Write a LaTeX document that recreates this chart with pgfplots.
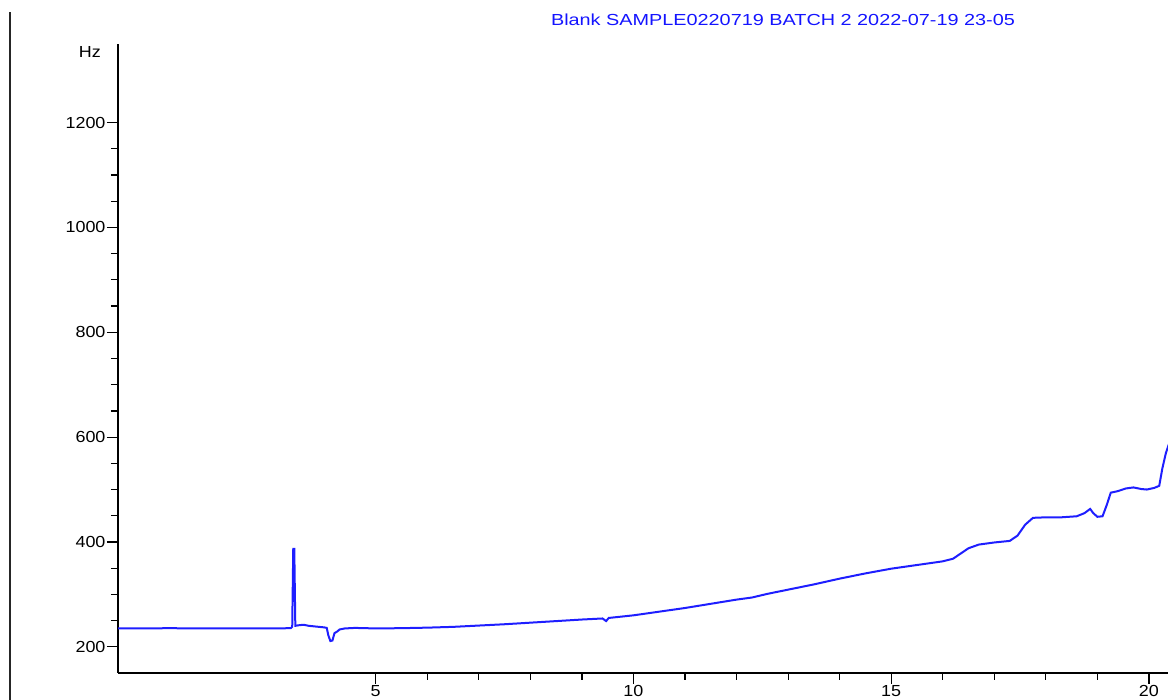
\documentclass[border=0pt]{standalone}
\usepackage{pgfplots}
\pgfplotsset{compat=1.18}
\usepackage{fontspec}
\setmainfont{Liberation Sans}
\newfontfamily\ticksfont[FakeStretch=1.12]{Liberation Sans}
\newfontfamily\titlefont[FakeStretch=1.24]{Liberation Sans}
\begin{document}
\begin{tikzpicture}[x=1pt,y=1pt]
\useasboundingbox (0,0) rectangle (1168,700);
\draw[line width=2pt, black!85] (10,0) -- (10,688);
\begin{axis}[
  at={(118pt,27pt)}, anchor=south west,
  scale only axis, width=1050pt, height=629pt,
  xmin=0, xmax=20.37, ymin=150, ymax=1350,
  axis x line=bottom, axis y line=left,
  axis line style={-, line width=1.3pt, black},
  xtick={5,10,15,20}, minor x tick num=4,
  ytick={200,400,600,800,1000,1200}, minor y tick num=3,
  xtick align=outside, ytick align=outside,
  major tick length=11pt, minor tick length=7pt,
  every tick/.style={black, line width=1.2pt},
  tick label style={font=\ticksfont\fontsize{16}{18}\selectfont, black},
  /pgf/number format/assume math mode=true,
  /pgf/number format/1000 sep={},
  xticklabel style={yshift=2pt},
  yticklabel style={xshift=2pt},
  clip mode=individual,
]
\addplot[color={rgb,255:red,30;green,30;blue,255}, line width=2pt] coordinates {
(0,235) (0.5,235) (1,235.5) (1.5,235) (2,235) (2.5,235) (3,235) (3.35,235.5)
(3.38,238) (3.40,387) (3.42,387) (3.44,240) (3.5,241) (3.6,242) (3.7,240)
(3.8,239) (3.9,238) (4.0,237) (4.05,236) (4.08,222) (4.12,211) (4.16,212)
(4.2,226) (4.25,229) (4.3,233) (4.4,235) (4.6,236) (5,235) (5.5,235.5)
(6,236.5) (6.5,238) (7,240.5) (7.5,243) (8,246) (8.5,249) (9,252) (9.4,254)
(9.47,249) (9.52,255) (10,260) (10.5,267) (11,274) (11.5,282) (12,290)
(12.3,294) (12.6,301) (13,309) (13.5,319) (14,330) (14.5,340) (15,349)
(15.5,356) (16,363) (16.2,368) (16.35,378) (16.5,388) (16.7,395) (17,399)
(17.3,402) (17.45,412) (17.6,433) (17.75,446) (18,447) (18.3,447) (18.6,449)
(18.75,455) (18.86,463) (18.92,455) (19.0,448) (19.1,449) (19.18,470)
(19.26,494) (19.4,497) (19.55,502) (19.7,504) (19.85,501) (19.96,500)
(20.1,503) (20.2,507) (20.26,540) (20.33,570) (20.4,590)
};
\end{axis}
\node[anchor=east, inner sep=0, font=\ticksfont\fontsize{16}{18}\selectfont] at (101,648) {Hz};
\node[anchor=center, inner sep=0, font=\titlefont\fontsize{16}{18}\selectfont, text={rgb,255:red,20;green,20;blue,255}] at (783,680) {Blank SAMPLE0220719 BATCH 2 2022-07-19 23-05};
\end{tikzpicture}
\end{document}
